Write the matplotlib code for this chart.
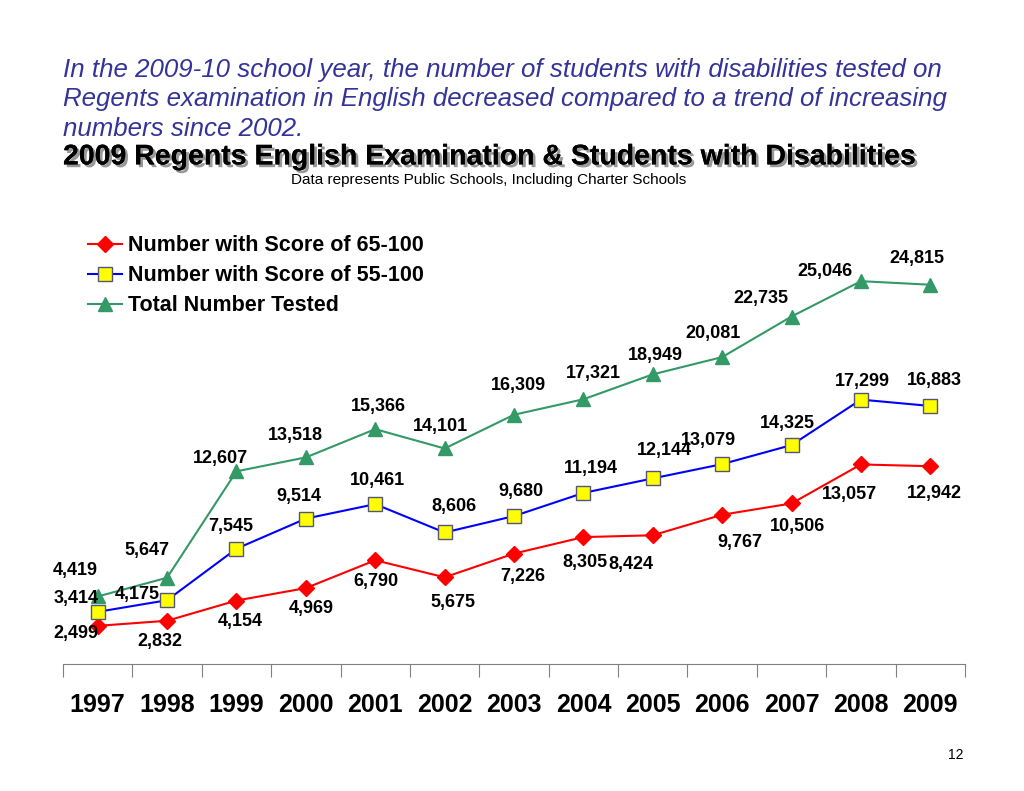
""" Regents English exam, students with disabilities """

import matplotlib
matplotlib.use("Agg")
import matplotlib.pyplot as plt
import matplotlib.patheffects as pe

years = ["1997", "1998", "1999", "2000", "2001", "2002", "2003",
         "2004", "2005", "2006", "2007", "2008", "2009"]
score_65 = [2499, 2832, 4154, 4969, 6790, 5675, 7226,
            8305, 8424, 9767, 10506, 13057, 12942]
score_55 = [3414, 4175, 7545, 9514, 10461, 8606, 9680,
            11194, 12144, 13079, 14325, 17299, 16883]
total = [4419, 5647, 12607, 13518, 15366, 14101, 16309,
         17321, 18949, 20081, 22735, 25046, 24815]

# label offsets in pixels (dx, dy)
off_65 = [(-22, -8), (-7, -21), (4, -21), (5, -20), (1, -21), (8, -25), (9, -23),
          (2, -25), (-22, -29), (18, -28), (6, -23), (-11, -30), (4, -27)]
off_55 = [(-22, 13), (-30, 6), (-6, 22), (-7, 22), (2, 24), (9, 26), (7, 25),
          (7, 24), (12, 28), (-14, 24), (-4, 22), (1, 18), (4, 25)]
off_tot = [(-22, 26), (-20, 27), (-16, 13), (-10, 22), (3, 23), (-4, 22), (4, 29),
           (10, 26), (3, 19), (-9, 24), (-31, 18), (-36, 10), (-13, 26)]

FONT = "Liberation Sans"


def label_points(ax, xs, values, offsets):
    for x, v, (dx, dy) in zip(xs, values, offsets):
        ax.annotate(f"{v:,}", (x, v), xytext=(dx, dy), textcoords="offset pixels",
                    ha="center", va="center", fontsize=13, fontweight="bold",
                    family=FONT)


def main():
    fig = plt.figure(figsize=(10.24, 7.91), dpi=100)
    ax = fig.add_axes([0.0615, 0.1605, 0.8809, 0.5411])
    xs = list(range(len(years)))

    ax.plot(xs, score_65, color="#ff0000", marker="D", markersize=8,
            markeredgecolor="#ff0000", lw=1.5, label="Number with Score of 65-100")
    ax.plot(xs, score_55, color="#0000ff", marker="s", markersize=10,
            markerfacecolor="#ffff00", markeredgecolor="#555577", lw=1.5,
            label="Number with Score of 55-100")
    ax.plot(xs, total, color="#339966", marker="^", markersize=10,
            markeredgecolor="#339966", lw=1.5, label="Total Number Tested")

    label_points(ax, xs, score_65, off_65)
    label_points(ax, xs, score_55, off_55)
    label_points(ax, xs, total, off_tot)

    ax.set_xlim(-0.5, len(years) - 0.5)
    ax.set_ylim(0, 28000)
    for s in ["left", "right", "top"]:
        ax.spines[s].set_visible(False)
    ax.spines["bottom"].set_color("#808080")
    ax.set_yticks([])
    ax.set_xticks([i - 0.5 for i in range(len(years) + 1)], minor=False)
    ax.set_xticklabels([])
    ax.tick_params(axis="x", which="major", length=9, color="#808080", direction="out")
    ax.set_xticks(xs, minor=True)
    ax.set_xticklabels(years, minor=True, fontsize=18, fontweight="bold", family=FONT)
    ax.tick_params(axis="x", which="minor", length=0, pad=21)

    ax.legend(loc="upper left", bbox_to_anchor=(0.006, 1.047), frameon=False,
              prop={"family": FONT, "weight": "bold", "size": 15.5},
              handlelength=1.6, handletextpad=0.25, labelspacing=0.42)

    fig.text(0.0615, 0.927, "In the 2009-10 school year, the number of students with "
             "disabilities tested on\nRegents examination in English decreased compared "
             "to a trend of increasing\nnumbers since 2002.",
             fontsize=18.65, style="italic", color="#333399", family=FONT,
             va="top", ha="left", linespacing=1.3)
    fig.text(0.0615, 0.801, "2009 Regents English Examination & Students with Disabilities",
             fontsize=20.5, fontweight="bold", family=FONT, ha="left", va="center",
             path_effects=[pe.withSimplePatchShadow(offset=(2, -2), shadow_rgbFace="#999999",
                                                    alpha=1.0), pe.Normal()])
    fig.text(0.477, 0.772, "Data represents Public Schools, Including Charter Schools",
             fontsize=11, family=FONT, ha="center", va="center")
    fig.text(0.933, 0.046, "12", fontsize=10, family=FONT, ha="center", va="center")

    fig.savefig("out.png", dpi=100)


if __name__ == "__main__":
    main()
